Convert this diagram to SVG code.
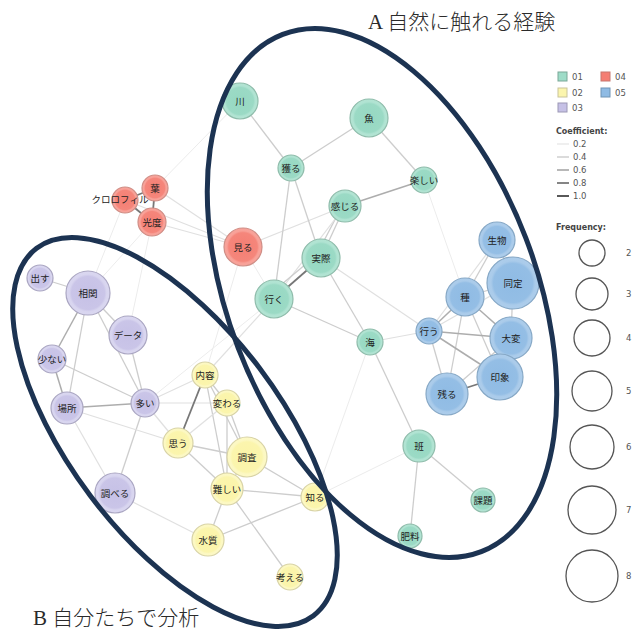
<svg xmlns="http://www.w3.org/2000/svg" width="635" height="631" viewBox="0 0 635 631">
<style>
.lbl{font-family:"Noto Sans CJK JP","Noto Sans",sans-serif;font-size:9.5px;fill:#222;text-anchor:middle;dominant-baseline:central}
.ttl{font-family:"Liberation Serif","Noto Sans CJK JP",serif;font-size:21px;font-weight:300;fill:#2a2a2a}
.leg{font-family:"DejaVu Sans","Noto Sans",sans-serif;font-size:8.5px;fill:#555}
.legb{font-family:"DejaVu Sans","Noto Sans",sans-serif;font-size:8px;font-weight:bold;fill:#444}
.e0{stroke:#ececec;stroke-width:1}
.e1{stroke:#e0e0e0;stroke-width:1.2}
.e2{stroke:#cdcdcd;stroke-width:1.3}
.e3{stroke:#adadad;stroke-width:1.5}
.e4{stroke:#777;stroke-width:1.8}
.G{fill:url(#gG);stroke:#8fbcab;stroke-width:1.2}
.R{fill:url(#gR);stroke:#cf8e86;stroke-width:1.2}
.B{fill:url(#gB);stroke:#86a8c6;stroke-width:1.2}
.P{fill:url(#gP);stroke:#aaa6c2;stroke-width:1.2}
.Y{fill:url(#gY);stroke:#d8d3a6;stroke-width:1.2}
.ell{fill:none;stroke:#1c3352;stroke-width:5}
.fc{fill:none;stroke:#555;stroke-width:1.3}
</style>
<defs>
<radialGradient id="gG"><stop offset="0" stop-color="#96d8c2"/><stop offset="0.75" stop-color="#9bdac5"/><stop offset="0.85" stop-color="#b0e3d2"/><stop offset="1" stop-color="#b3e4d3"/></radialGradient>
<radialGradient id="gR"><stop offset="0" stop-color="#f47e73"/><stop offset="0.75" stop-color="#f5867b"/><stop offset="0.85" stop-color="#f8a198"/><stop offset="1" stop-color="#f8a39a"/></radialGradient>
<radialGradient id="gB"><stop offset="0" stop-color="#8fbbe4"/><stop offset="0.75" stop-color="#94bee5"/><stop offset="0.85" stop-color="#aacbea"/><stop offset="1" stop-color="#adcdeb"/></radialGradient>
<radialGradient id="gP"><stop offset="0" stop-color="#c6c1e6"/><stop offset="0.75" stop-color="#cac5e8"/><stop offset="0.85" stop-color="#d8d5ef"/><stop offset="1" stop-color="#dad7f0"/></radialGradient>
<radialGradient id="gY"><stop offset="0" stop-color="#fbf4a8"/><stop offset="0.75" stop-color="#fbf5ad"/><stop offset="0.85" stop-color="#fcf8c2"/><stop offset="1" stop-color="#fdf9c6"/></radialGradient>
</defs>
<rect width="635" height="631" fill="#fff"/>
<g id="edges">
<line class="e0" x1="125" y1="200" x2="88" y2="293"/>
<line class="e0" x1="152" y1="222" x2="88" y2="293"/>
<line class="e0" x1="152" y1="222" x2="128" y2="335"/>
<line class="e0" x1="243" y1="247" x2="274" y2="299"/>
<line class="e0" x1="240" y1="101" x2="155" y2="188"/>
<line class="e0" x1="145" y1="403" x2="274" y2="299"/>
<line class="e0" x1="315" y1="497" x2="419" y2="446"/>
<line class="e0" x1="424" y1="180" x2="465" y2="297"/>
<line class="e0" x1="370" y1="342" x2="315" y2="497"/>
<line class="e0" x1="243" y1="247" x2="205" y2="375"/>
<line class="e1" x1="155" y1="188" x2="243" y2="247"/>
<line class="e1" x1="125" y1="200" x2="243" y2="247"/>
<line class="e1" x1="152" y1="222" x2="243" y2="247"/>
<line class="e1" x1="243" y1="247" x2="345" y2="206"/>
<line class="e2" x1="240" y1="101" x2="291" y2="168"/>
<line class="e2" x1="291" y1="168" x2="369" y2="118"/>
<line class="e2" x1="369" y1="118" x2="424" y2="180"/>
<line class="e3" x1="424" y1="180" x2="345" y2="206"/>
<line class="e2" x1="291" y1="168" x2="321" y2="258"/>
<line class="e2" x1="291" y1="168" x2="274" y2="299"/>
<line class="e2" x1="345" y1="206" x2="321" y2="258"/>
<line class="e2" x1="340" y1="210" x2="316" y2="256"/>
<line class="e1" x1="345" y1="206" x2="274" y2="299"/>
<line class="e4" x1="321" y1="258" x2="274" y2="299"/>
<line class="e2" x1="318" y1="254" x2="270" y2="294"/>
<line class="e2" x1="321" y1="258" x2="370" y2="342"/>
<line class="e2" x1="274" y1="299" x2="370" y2="342"/>
<line class="e1" x1="370" y1="342" x2="429" y2="331"/>
<line class="e2" x1="370" y1="342" x2="419" y2="446"/>
<line class="e2" x1="419" y1="446" x2="483" y2="500"/>
<line class="e2" x1="419" y1="446" x2="410" y2="536"/>
<line class="e1" x1="321" y1="258" x2="429" y2="331"/>
<line class="e2" x1="497" y1="240" x2="465" y2="297"/>
<line class="e2" x1="497" y1="240" x2="513" y2="283"/>
<line class="e1" x1="497" y1="240" x2="429" y2="331"/>
<line class="e2" x1="513" y1="283" x2="465" y2="297"/>
<line class="e2" x1="513" y1="283" x2="511" y2="338"/>
<line class="e3" x1="465" y1="297" x2="429" y2="331"/>
<line class="e3" x1="465" y1="297" x2="511" y2="338"/>
<line class="e2" x1="465" y1="297" x2="500" y2="377"/>
<line class="e2" x1="465" y1="297" x2="447" y2="394"/>
<line class="e3" x1="429" y1="331" x2="511" y2="338"/>
<line class="e3" x1="429" y1="331" x2="500" y2="377"/>
<line class="e2" x1="429" y1="331" x2="447" y2="394"/>
<line class="e2" x1="511" y1="338" x2="500" y2="377"/>
<line class="e2" x1="511" y1="338" x2="447" y2="394"/>
<line class="e4" x1="500" y1="377" x2="447" y2="394"/>
<line class="e1" x1="513" y1="283" x2="429" y2="331"/>
<line class="e4" x1="155" y1="188" x2="125" y2="200"/>
<line class="e4" x1="155" y1="188" x2="152" y2="222"/>
<line class="e4" x1="125" y1="200" x2="152" y2="222"/>
<line class="e2" x1="40" y1="278" x2="88" y2="293"/>
<line class="e2" x1="88" y1="293" x2="128" y2="335"/>
<line class="e3" x1="88" y1="293" x2="52" y2="359"/>
<line class="e2" x1="88" y1="293" x2="67" y2="408"/>
<line class="e3" x1="52" y1="359" x2="67" y2="408"/>
<line class="e2" x1="52" y1="359" x2="145" y2="403"/>
<line class="e3" x1="67" y1="408" x2="145" y2="403"/>
<line class="e2" x1="128" y1="335" x2="145" y2="403"/>
<line class="e2" x1="88" y1="293" x2="145" y2="403"/>
<line class="e2" x1="145" y1="403" x2="115" y2="493"/>
<line class="e1" x1="67" y1="408" x2="115" y2="493"/>
<line class="e1" x1="145" y1="403" x2="205" y2="375"/>
<line class="e1" x1="145" y1="403" x2="227" y2="403"/>
<line class="e1" x1="145" y1="403" x2="178" y2="443"/>
<line class="e1" x1="115" y1="493" x2="208" y2="540"/>
<line class="e1" x1="67" y1="408" x2="178" y2="443"/>
<line class="e4" x1="205" y1="375" x2="178" y2="443"/>
<line class="e2" x1="205" y1="375" x2="227" y2="403"/>
<line class="e2" x1="205" y1="375" x2="247" y2="457"/>
<line class="e2" x1="205" y1="375" x2="227" y2="489"/>
<line class="e2" x1="227" y1="403" x2="247" y2="457"/>
<line class="e1" x1="227" y1="403" x2="178" y2="443"/>
<line class="e2" x1="227" y1="403" x2="227" y2="489"/>
<line class="e2" x1="178" y1="443" x2="247" y2="457"/>
<line class="e2" x1="178" y1="443" x2="227" y2="489"/>
<line class="e2" x1="247" y1="457" x2="227" y2="489"/>
<line class="e2" x1="247" y1="457" x2="315" y2="497"/>
<line class="e2" x1="227" y1="489" x2="315" y2="497"/>
<line class="e2" x1="227" y1="489" x2="208" y2="540"/>
<line class="e2" x1="208" y1="540" x2="315" y2="497"/>
<line class="e2" x1="227" y1="489" x2="290" y2="577"/>
<line class="e1" x1="205" y1="375" x2="274" y2="299"/>
</g>
<g id="n-kawa"><circle class="G" cx="240" cy="101" r="18"/><text class="lbl" x="240" y="101">川</text></g>
<g id="n-sakana"><circle class="G" cx="369" cy="118" r="19"/><text class="lbl" x="369" y="118">魚</text></g>
<g id="n-toru"><circle class="G" cx="291" cy="168" r="13"/><text class="lbl" x="291" y="168">獲る</text></g>
<g id="n-tanoshii"><circle class="G" cx="424" cy="180" r="13"/><text class="lbl" x="424" y="180">楽しい</text></g>
<g id="n-kanjiru"><circle class="G" cx="345" cy="206" r="16"/><text class="lbl" x="345" y="206">感じる</text></g>
<g id="n-jissai"><circle class="G" cx="321" cy="258" r="19"/><text class="lbl" x="321" y="258">実際</text></g>
<g id="n-iku"><circle class="G" cx="274" cy="299" r="19"/><text class="lbl" x="274" y="299">行く</text></g>
<g id="n-umi"><circle class="G" cx="370" cy="342" r="13"/><text class="lbl" x="370" y="342">海</text></g>
<g id="n-han"><circle class="G" cx="419" cy="446" r="16"/><text class="lbl" x="419" y="446">班</text></g>
<g id="n-kadai"><circle class="G" cx="483" cy="500" r="12"/><text class="lbl" x="483" y="500">課題</text></g>
<g id="n-hiryo"><circle class="G" cx="410" cy="536" r="12"/><text class="lbl" x="410" y="536">肥料</text></g>
<g id="n-miru"><circle class="R" cx="243" cy="247" r="19"/><text class="lbl" x="243" y="247">見る</text></g>
<g id="n-ha"><circle class="R" cx="155" cy="188" r="13"/><text class="lbl" x="155" y="188">葉</text></g>
<g id="n-chloro"><circle class="R" cx="125" cy="200" r="13"/><text class="lbl" x="120" y="199">クロロフィル</text></g>
<g id="n-kodo"><circle class="R" cx="152" cy="222" r="14"/><text class="lbl" x="152" y="222">光度</text></g>
<g id="n-seibutsu"><circle class="B" cx="497" cy="240" r="18"/><text class="lbl" x="497" y="240">生物</text></g>
<g id="n-dotei"><circle class="B" cx="513" cy="283" r="26"/><text class="lbl" x="513" y="283">同定</text></g>
<g id="n-shu"><circle class="B" cx="465" cy="297" r="19"/><text class="lbl" x="465" y="297">種</text></g>
<g id="n-okonau"><circle class="B" cx="429" cy="331" r="13"/><text class="lbl" x="429" y="331">行う</text></g>
<g id="n-taihen"><circle class="B" cx="511" cy="338" r="21"/><text class="lbl" x="511" y="338">大変</text></g>
<g id="n-insho"><circle class="B" cx="500" cy="377" r="23"/><text class="lbl" x="500" y="377">印象</text></g>
<g id="n-nokoru"><circle class="B" cx="447" cy="394" r="21"/><text class="lbl" x="447" y="394">残る</text></g>
<g id="n-dasu"><circle class="P" cx="40" cy="278" r="13"/><text class="lbl" x="40" y="278">出す</text></g>
<g id="n-sokan"><circle class="P" cx="88" cy="293" r="22"/><text class="lbl" x="88" y="293">相関</text></g>
<g id="n-data"><circle class="P" cx="128" cy="335" r="19"/><text class="lbl" x="128" y="335">データ</text></g>
<g id="n-sukunai"><circle class="P" cx="52" cy="359" r="14"/><text class="lbl" x="52" y="359">少ない</text></g>
<g id="n-basho"><circle class="P" cx="67" cy="408" r="16"/><text class="lbl" x="67" y="408">場所</text></g>
<g id="n-ooi"><circle class="P" cx="145" cy="403" r="14"/><text class="lbl" x="145" y="403">多い</text></g>
<g id="n-shiraberu"><circle class="P" cx="115" cy="493" r="20"/><text class="lbl" x="115" y="493">調べる</text></g>
<g id="n-naiyo"><circle class="Y" cx="205" cy="375" r="13"/><text class="lbl" x="205" y="375">内容</text></g>
<g id="n-kawaru"><circle class="Y" cx="227" cy="403" r="13"/><text class="lbl" x="227" y="403">変わる</text></g>
<g id="n-omou"><circle class="Y" cx="178" cy="443" r="15"/><text class="lbl" x="178" y="443">思う</text></g>
<g id="n-chosa"><circle class="Y" cx="247" cy="457" r="20"/><text class="lbl" x="247" y="457">調査</text></g>
<g id="n-muzukashii"><circle class="Y" cx="227" cy="489" r="16"/><text class="lbl" x="227" y="489">難しい</text></g>
<g id="n-shiru"><circle class="Y" cx="315" cy="497" r="14"/><text class="lbl" x="315" y="497">知る</text></g>
<g id="n-suishitsu"><circle class="Y" cx="208" cy="540" r="16"/><text class="lbl" x="208" y="540">水質</text></g>
<g id="n-kangaeru"><circle class="Y" cx="290" cy="577" r="13"/><text class="lbl" x="290" y="577">考える</text></g>
<g id="groups">
<ellipse class="ell" cx="382" cy="293" rx="277" ry="154" transform="rotate(69 382 293)"/>
<ellipse class="ell" cx="175" cy="432" rx="230" ry="106" transform="rotate(53 175 432)"/>
</g>
<text class="ttl" x="368" y="29">A 自然に触れる経験</text>
<text class="ttl" x="33" y="625">B 自分たちで分析</text>
<g id="legend">
<rect x="558" y="72" width="9" height="9" fill="#9edcc8" stroke="#7aa898"/><text class="leg" x="572" y="80">01</text>
<rect x="601" y="72" width="9" height="9" fill="#f47e73" stroke="#c8776e"/><text class="leg" x="615" y="80">04</text>
<rect x="558" y="88" width="9" height="9" fill="#fbf5ad" stroke="#c9c49a"/><text class="leg" x="572" y="96">02</text>
<rect x="601" y="88" width="9" height="9" fill="#8fbbe4" stroke="#6f94b5"/><text class="leg" x="615" y="96">05</text>
<rect x="558" y="103" width="9" height="9" fill="#c6c1e6" stroke="#9c98b5"/><text class="leg" x="572" y="111">03</text>
<text class="legb" x="556" y="134">Coefficient:</text>
<line x1="557" y1="144" x2="569" y2="144" stroke="#e4e4e4" stroke-width="1.2"/><text class="leg" x="573" y="147">0.2</text>
<line x1="557" y1="157" x2="569" y2="157" stroke="#c8c8c8" stroke-width="1.3"/><text class="leg" x="573" y="160">0.4</text>
<line x1="557" y1="170" x2="569" y2="170" stroke="#a0a0a0" stroke-width="1.5"/><text class="leg" x="573" y="173">0.6</text>
<line x1="557" y1="183" x2="569" y2="183" stroke="#707070" stroke-width="1.7"/><text class="leg" x="573" y="186">0.8</text>
<line x1="557" y1="196" x2="569" y2="196" stroke="#505050" stroke-width="1.9"/><text class="leg" x="573" y="199">1.0</text>
<text class="legb" x="556" y="230">Frequency:</text>
<circle class="fc" cx="592" cy="253" r="13"/><text class="leg" x="626" y="256">2</text>
<circle class="fc" cx="592" cy="294" r="16"/><text class="leg" x="626" y="297">3</text>
<circle class="fc" cx="592" cy="338" r="18"/><text class="leg" x="626" y="341">4</text>
<circle class="fc" cx="592" cy="391" r="20"/><text class="leg" x="626" y="394">5</text>
<circle class="fc" cx="592" cy="447" r="22"/><text class="leg" x="626" y="450">6</text>
<circle class="fc" cx="592" cy="510" r="24"/><text class="leg" x="626" y="513">7</text>
<circle class="fc" cx="592" cy="576" r="26"/><text class="leg" x="626" y="579">8</text>
</g>
</svg>
